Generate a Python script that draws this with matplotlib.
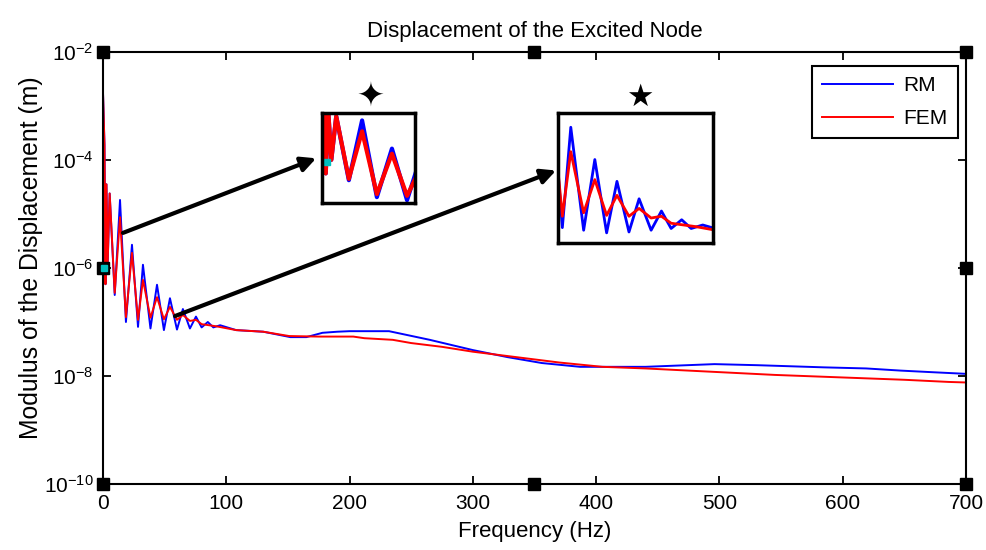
import numpy as np
import matplotlib
matplotlib.use('Agg')
import matplotlib.pyplot as plt
from matplotlib.ticker import NullLocator

plt.rcParams['font.family'] = ['Liberation Sans', 'DejaVu Sans']
plt.rcParams['mathtext.default'] = 'regular'

# values: frequency (Hz) and log10 of |displacement| (m)
rm_freq = [0, 1.2, 2.0, 2.8, 3.8, 5.4, 9.5, 13.8, 18.6, 23.5, 28.4, 32.4, 38.5,
           43.8, 49.4, 54.3, 60.0, 64.8, 70.5, 75.4, 80.0, 85.0, 89.5, 95.0,
           108, 130, 152, 165, 178, 190, 200, 232, 265, 300, 328, 356, 387,
           440, 496, 531, 585, 619, 647, 673, 700]
rm_logdisp = [-2.76, -3.72, -6.3, -4.45, -5.9, -4.62, -6.5, -4.74, -7.0, -5.57,
              -7.09, -5.94, -7.12, -6.31, -7.15, -6.56, -7.14, -6.76, -7.12,
              -6.9, -7.1, -7.0, -7.1, -7.06, -7.15, -7.18, -7.28, -7.28, -7.2,
              -7.18, -7.17, -7.17, -7.33, -7.52, -7.65, -7.76, -7.83, -7.83,
              -7.78, -7.8, -7.84, -7.86, -7.9, -7.93, -7.96]

fem_freq = [0, 1.2, 2.0, 2.8, 3.8, 5.4, 9.5, 13.8, 18.6, 23.5, 28.4, 32.4, 38.5,
            43.8, 49.4, 54.3, 60.0, 64.8, 70.5, 75.4, 80, 92, 108, 130, 151,
            175, 203, 212, 235, 250, 275, 300, 335, 370, 405, 440, 475, 510,
            545, 580, 615, 650, 686, 700]
fem_logdisp = [-2.76, -3.72, -6.3, -4.45, -5.9, -4.62, -6.46, -5.06, -6.91, -5.72,
               -6.96, -6.22, -6.92, -6.54, -6.95, -6.72, -6.96, -6.87, -6.98,
               -6.96, -7.04, -7.08, -7.15, -7.18, -7.26, -7.27, -7.27, -7.3,
               -7.33, -7.39, -7.46, -7.55, -7.65, -7.75, -7.83, -7.86, -7.9,
               -7.94, -7.98, -8.01, -8.04, -8.07, -8.11, -8.12]

xticks = [0, 100, 200, 300, 400, 500, 600, 700]
ytick_exps = [-10, -8, -6, -4, -2]

rm_disp = 10.0 ** np.array(rm_logdisp)
fem_disp = 10.0 ** np.array(fem_logdisp)

fig = plt.figure(figsize=(9.87, 5.5), dpi=100)
ax = fig.add_axes([0.10436, 0.12, 0.87436, 0.78545])

ax.semilogy(rm_freq, rm_disp, color='blue', lw=1.4, label='RM')
ax.semilogy(fem_freq, fem_disp, color='red', lw=1.4, label='FEM')
ax.set_xlim(0, 700)
ax.set_ylim(1e-10, 1e-2)
ax.set_xticks(xticks)
ax.set_xticklabels([str(t) for t in xticks])
ax.set_yticks([10.0 ** e for e in ytick_exps])
ax.set_yticklabels([r'$\mathregular{10^{%d}}$' % e for e in ytick_exps])
ax.yaxis.set_minor_locator(NullLocator())
ax.tick_params(direction='in', top=True, right=True, length=6, width=1.3,
               labelsize=15, pad=7)
for sp in ax.spines.values():
    sp.set_linewidth(1.5)

ax.set_title('Displacement of the Excited Node', fontsize=16, pad=11)
ax.set_xlabel('Frequency (Hz)', fontsize=16, labelpad=6)
ax.set_ylabel('Modulus of the Displacement (m)', fontsize=17.8)
ax.yaxis.set_label_coords(-0.07, 0.525)

leg = ax.legend(loc='upper right', bbox_to_anchor=(0.9907, 0.9676),
                borderaxespad=0, fancybox=False, edgecolor='k', framealpha=1,
                handlelength=3.4, handletextpad=0.5, labelspacing=0.65,
                borderpad=0.5, fontsize=15)
leg.get_frame().set_linewidth(1.5)

# figure edit handles (black squares)
for hx, hy in [(0, 0), (0.5, 0), (1, 0), (0, 0.5), (1, 0.5), (0, 1), (0.5, 1), (1, 1)]:
    ax.plot(hx, hy, 's', color='k', ms=8, transform=ax.transAxes,
            clip_on=False, zorder=6)
# data cursor
ax.plot(0.8, 1e-6, 's', color='c', ms=4, clip_on=False, zorder=8)

# zoom insets
ins1 = fig.add_axes([0.326, 0.6304, 0.0945, 0.1636])
ins2 = fig.add_axes([0.5657, 0.5576, 0.157, 0.2364])
for ins, lw in [(ins1, 3), (ins2, 2)]:
    ins.semilogy(rm_freq, rm_disp, color='blue', lw=lw)
    ins.semilogy(fem_freq, fem_disp, color='red', lw=lw)
    ins.set_xticks([])
    ins.set_yticks([])
    ins.yaxis.set_minor_locator(NullLocator())
    for sp in ins.spines.values():
        sp.set_linewidth(2.5)
ins1.set_xlim(0.7, 31)
ins1.set_ylim(10 ** -7.18, 10 ** -4.53)
ins2.set_xlim(26.5, 100)
ins2.set_ylim(10 ** -7.27, 10 ** -5.78)
ins1.plot(0.06, 0.46, 's', color='c', ms=5, transform=ins1.transAxes, clip_on=False)

fig.text(371 / 987, 1 - 97 / 550, '\u2726', ha='center', va='center',
         fontsize=24, family='DejaVu Sans')
fig.text(640 / 987, 1 - 97 / 550, '\u2605', ha='center', va='center',
         fontsize=22, family='DejaVu Sans')

arrow = dict(arrowstyle='-|>', color='k', lw=3, mutation_scale=22,
             shrinkA=0, shrinkB=0)
ax.annotate('', xy=(-0.06, 0.50), xycoords=ins1.transAxes,
            xytext=(16.2, 10 ** -5.35), textcoords='data',
            arrowprops=arrow, annotation_clip=False)
ax.annotate('', xy=(-0.015, 0.56), xycoords=ins2.transAxes,
            xytext=(58.4, 10 ** -6.89), textcoords='data',
            arrowprops=arrow, annotation_clip=False)

fig.savefig('out.png', dpi=100)
